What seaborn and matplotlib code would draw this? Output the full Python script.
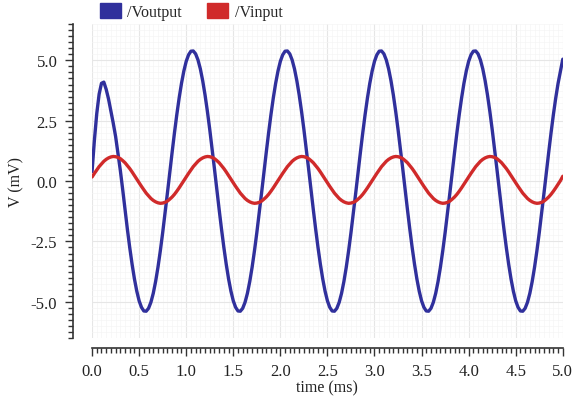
import matplotlib
matplotlib.use("Agg")
import matplotlib.pyplot as plt
import matplotlib.ticker as mticker
from matplotlib.patches import Patch
import pandas as pd
import seaborn as sns

sns.set_theme(style="white")
plt.rcParams["font.family"] = ["Liberation Serif", "DejaVu Serif"]

# sample grid, 0.025 ms steps from 0 to 5 ms
time_ms = [round(0.025 * i, 3) for i in range(201)]

# values (mV)
v_output = [
    # 0 - 1 ms (start-up transient, then steady swing)
    0.40, 1.70, 2.80, 3.60, 4.05, 4.10, 3.80, 3.40, 2.90, 2.40,
    1.85, 1.15, 0.45, -0.34, -1.18, -1.99, -2.75, -3.44, -4.05, -4.56,
    -4.96, -5.23, -5.38, -5.39, -5.27, -5.02, -4.65, -4.16, -3.57, -2.89,
    -2.14, -1.34, -0.51, 0.34, 1.18, 1.99, 2.75, 3.44, 4.05, 4.56,
    # 1 - 2 ms
    4.96, 5.23, 5.38, 5.39, 5.27, 5.02, 4.65, 4.16, 3.57, 2.89,
    2.14, 1.34, 0.51, -0.34, -1.18, -1.99, -2.75, -3.44, -4.05, -4.56,
    -4.96, -5.23, -5.38, -5.39, -5.27, -5.02, -4.65, -4.16, -3.57, -2.89,
    -2.14, -1.34, -0.51, 0.34, 1.18, 1.99, 2.75, 3.44, 4.05, 4.56,
    # 2 - 3 ms
    4.96, 5.23, 5.38, 5.39, 5.27, 5.02, 4.65, 4.16, 3.57, 2.89,
    2.14, 1.34, 0.51, -0.34, -1.18, -1.99, -2.75, -3.44, -4.05, -4.56,
    -4.96, -5.23, -5.38, -5.39, -5.27, -5.02, -4.65, -4.16, -3.57, -2.89,
    -2.14, -1.34, -0.51, 0.34, 1.18, 1.99, 2.75, 3.44, 4.05, 4.56,
    # 3 - 4 ms
    4.96, 5.23, 5.38, 5.39, 5.27, 5.02, 4.65, 4.16, 3.57, 2.89,
    2.14, 1.34, 0.51, -0.34, -1.18, -1.99, -2.75, -3.44, -4.05, -4.56,
    -4.96, -5.23, -5.38, -5.39, -5.27, -5.02, -4.65, -4.16, -3.57, -2.89,
    -2.14, -1.34, -0.51, 0.34, 1.18, 1.99, 2.75, 3.44, 4.05, 4.56,
    # 4 - 5 ms
    4.96, 5.23, 5.38, 5.39, 5.27, 5.02, 4.65, 4.16, 3.57, 2.89,
    2.14, 1.34, 0.51, -0.34, -1.18, -1.99, -2.75, -3.44, -4.05, -4.56,
    -4.96, -5.23, -5.38, -5.39, -5.27, -5.02, -4.65, -4.16, -3.57, -2.89,
    -2.14, -1.34, -0.51, 0.34, 1.18, 1.99, 2.75, 3.44, 4.05, 4.56,
    5.05,
]
v_input = [
    # 0 - 1 ms
    0.17, 0.32, 0.46, 0.60, 0.71, 0.82, 0.90, 0.96, 1.00, 1.02,
    1.01, 0.98, 0.93, 0.85, 0.76, 0.64, 0.52, 0.38, 0.23, 0.08,
    -0.07, -0.22, -0.36, -0.50, -0.61, -0.72, -0.80, -0.86, -0.90, -0.92,
    -0.91, -0.88, -0.83, -0.75, -0.66, -0.55, -0.42, -0.28, -0.13, 0.02,
    # 1 - 2 ms
    0.17, 0.32, 0.46, 0.60, 0.71, 0.82, 0.90, 0.96, 1.00, 1.02,
    1.01, 0.98, 0.93, 0.85, 0.76, 0.64, 0.52, 0.38, 0.23, 0.08,
    -0.07, -0.22, -0.36, -0.50, -0.61, -0.72, -0.80, -0.86, -0.90, -0.92,
    -0.91, -0.88, -0.83, -0.75, -0.66, -0.55, -0.42, -0.28, -0.13, 0.02,
    # 2 - 3 ms
    0.17, 0.32, 0.46, 0.60, 0.71, 0.82, 0.90, 0.96, 1.00, 1.02,
    1.01, 0.98, 0.93, 0.85, 0.76, 0.64, 0.52, 0.38, 0.23, 0.08,
    -0.07, -0.22, -0.36, -0.50, -0.61, -0.72, -0.80, -0.86, -0.90, -0.92,
    -0.91, -0.88, -0.83, -0.75, -0.66, -0.55, -0.42, -0.28, -0.13, 0.02,
    # 3 - 4 ms
    0.17, 0.32, 0.46, 0.60, 0.71, 0.82, 0.90, 0.96, 1.00, 1.02,
    1.01, 0.98, 0.93, 0.85, 0.76, 0.64, 0.52, 0.38, 0.23, 0.08,
    -0.07, -0.22, -0.36, -0.50, -0.61, -0.72, -0.80, -0.86, -0.90, -0.92,
    -0.91, -0.88, -0.83, -0.75, -0.66, -0.55, -0.42, -0.28, -0.13, 0.02,
    # 4 - 5 ms
    0.17, 0.32, 0.46, 0.60, 0.71, 0.82, 0.90, 0.96, 1.00, 1.02,
    1.01, 0.98, 0.93, 0.85, 0.76, 0.64, 0.52, 0.38, 0.23, 0.08,
    -0.07, -0.22, -0.36, -0.50, -0.61, -0.72, -0.80, -0.86, -0.90, -0.92,
    -0.91, -0.88, -0.83, -0.75, -0.66, -0.55, -0.42, -0.28, -0.13, 0.02,
    0.20,
]
series_names = ["/Voutput", "/Vinput"]
colors = {"/Voutput": "#30309c", "/Vinput": "#d02a2a"}

data = pd.DataFrame(
    {
        "time (ms)": time_ms + time_ms,
        "V (mV)": v_output + v_input,
        "signal": [series_names[0]] * len(v_output) + [series_names[1]] * len(v_input),
    }
)

fig = plt.figure(figsize=(5.79, 4.06), dpi=100)
ax = fig.add_axes([0.159, 0.165, 0.813, 0.773])

sns.lineplot(
    data=data,
    x="time (ms)",
    y="V (mV)",
    hue="signal",
    palette=colors,
    estimator=None,
    sort=False,
    linewidth=2.4,
    legend=False,
    ax=ax,
)
for line in ax.get_lines():
    line.set_solid_joinstyle("round")

ax.set_xlim(0, 5.0)
ax.set_ylim(-6.5, 6.5)
ax.xaxis.set_major_locator(mticker.MultipleLocator(0.5))
ax.xaxis.set_minor_locator(mticker.MultipleLocator(0.05))
ax.yaxis.set_major_locator(mticker.MultipleLocator(2.5))
ax.yaxis.set_minor_locator(mticker.MultipleLocator(0.25))
ax.xaxis.set_major_formatter(mticker.FormatStrFormatter("%.1f"))
ax.yaxis.set_major_formatter(mticker.FormatStrFormatter("%.1f"))

ax.grid(True, which="major", color="#e6e6e6", linewidth=0.8)
ax.grid(True, which="minor", color="#f5f5f5", linewidth=0.5)
ax.set_axisbelow(True)

ax.tick_params(which="both", direction="out", color="#333333", width=1.0,
               bottom=True, left=True)
ax.tick_params(which="major", length=6, labelsize=12, labelcolor="#222222", pad=5)
ax.tick_params(which="minor", length=3.5)
for side in ["left", "bottom"]:
    ax.spines[side].set_color("#333333")
    ax.spines[side].set_linewidth(1.2)
sns.despine(ax=ax, offset={"left": 14, "bottom": 7})

ax.set_xlabel("time (ms)", fontsize=11.5, color="#222222", labelpad=0)
ax.set_ylabel("V (mV)", fontsize=11.5, color="#222222", labelpad=5)

handles = [Patch(facecolor=colors[n], edgecolor=colors[n], label=n) for n in series_names]
fig.legend(
    handles=handles,
    loc="upper left",
    bbox_to_anchor=(0.148, 1.025),
    ncol=2,
    frameon=False,
    fontsize=11.5,
    handlelength=1.3,
    handleheight=1.0,
    handletextpad=0.4,
    columnspacing=1.6,
)

fig.savefig("out.png", dpi=100)
